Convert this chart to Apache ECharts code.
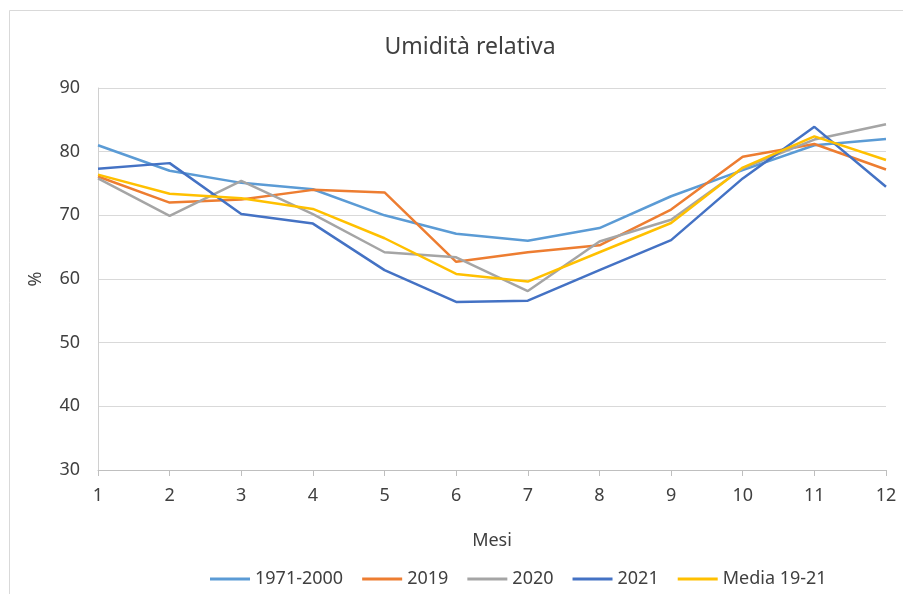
<!DOCTYPE html>
<html>
<head>
<meta charset="utf-8">
<style>
  html, body { margin: 0; padding: 0; background: #fff; }
  #main { width: 903px; height: 594px; }
</style>
<script src="https://cdn.jsdelivr.net/npm/echarts@6/dist/echarts.min.js"></script>
</head>
<body>
<div id="main"></div>
<script>
  // mesi
  var mesi = ['1', '2', '3', '4', '5', '6', '7', '8', '9', '10', '11', '12'];
  var yTicks = [30, 40, 50, 60, 70, 80, 90];

  // umidità relativa (%)
  var clima7100 = [81, 77, 75.1, 74.1, 70, 67.1, 66, 68, 73, 77.1, 81, 82];
  var anno2019 = [76.1, 72, 72.5, 74, 73.6, 62.7, 64.2, 65.3, 70.9, 79.2, 81.2, 77.2];
  var anno2020 = [75.8, 69.9, 75.4, 70.2, 64.2, 63.4, 58.1, 65.9, 69.3, 77.4, 81.9, 84.3];
  var anno2021 = [77.3, 78.2, 70.2, 68.7, 61.4, 56.4, 56.6, 61.4, 66.1, 75.8, 83.9, 74.5];
  var media1921 = [76.4, 73.4, 72.7, 71, 66.4, 60.8, 59.6, 64.2, 68.8, 77.5, 82.4, 78.7];

  var font = 'Noto Sans';
  var txt = '#404040';

  function linea(nome, dati, colore) {
    return {
      name: nome,
      type: 'line',
      data: dati,
      symbol: 'none',
      smooth: false,
      lineStyle: { width: 2.5, color: colore },
      itemStyle: { color: colore }
    };
  }

  var myChart = echarts.init(document.getElementById('main'));
  myChart.setOption({
    backgroundColor: '#fff',
    animation: false,
    textStyle: { fontFamily: font },
    graphic: [{
      type: 'rect',
      shape: { x: 9.5, y: 10.5, width: 900, height: 600 },
      style: { fill: 'none', stroke: '#d9d9d9', lineWidth: 1 },
      silent: true
    }],
    title: {
      text: 'Umidità relativa',
      left: 465,
      textAlign: 'center',
      top: 31,
      textStyle: { fontFamily: font, fontSize: 23, fontWeight: 'normal', color: txt }
    },
    legend: {
      left: 205,
      top: 565,
      icon: 'rect',
      itemWidth: 40,
      itemHeight: 3,
      itemGap: 19,
      textStyle: { fontFamily: font, fontSize: 18, color: txt },
      data: ['1971-2000', '2019', '2020', '2021', 'Media 19-21']
    },
    grid: { left: 98, right: 17, top: 88, bottom: 124, containLabel: false },
    xAxis: {
      type: 'category',
      data: mesi,
      boundaryGap: false,
      name: 'Mesi',
      nameLocation: 'middle',
      nameGap: 62,
      nameTextStyle: { fontFamily: font, fontSize: 18, color: txt },
      axisLine: { lineStyle: { color: '#bfbfbf', width: 1 } },
      axisTick: { show: true, length: 6, lineStyle: { color: '#bfbfbf' } },
      axisLabel: { margin: 17, fontFamily: font, fontSize: 18, color: txt },
      splitLine: { show: false }
    },
    yAxis: {
      type: 'value',
      min: yTicks[0],
      max: yTicks[yTicks.length - 1],
      interval: 10,
      name: '%',
      nameLocation: 'middle',
      nameGap: 53,
      nameTextStyle: { fontFamily: font, fontSize: 18, color: txt },
      axisLine: { show: true, lineStyle: { color: '#d0d0d0', width: 1 } },
      axisTick: { show: false },
      axisLabel: { margin: 18, fontFamily: font, fontSize: 18, color: txt },
      splitLine: { lineStyle: { color: '#d9d9d9', width: 1 } }
    },
    series: [
      linea('1971-2000', clima7100, '#5b9bd5'),
      linea('2019', anno2019, '#ed7d31'),
      linea('2020', anno2020, '#a5a5a5'),
      linea('2021', anno2021, '#4472c4'),
      linea('Media 19-21', media1921, '#ffc000')
    ]
  });
</script>
</body>
</html>
